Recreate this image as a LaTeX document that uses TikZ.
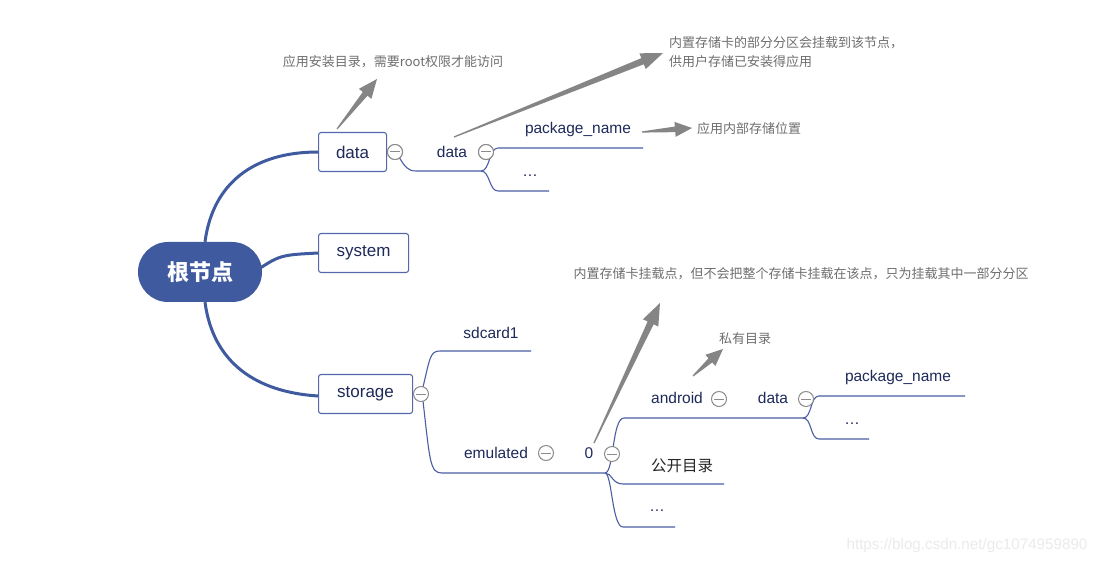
\documentclass[tikz,border=0pt]{standalone}
\usepackage{fontspec}
\setmainfont{Liberation Sans}
\newfontfamily\cjk{Noto Sans CJK SC}
\usetikzlibrary{calc}
\definecolor{rootblue}{HTML}{3F5A9E}
\definecolor{linkblue}{HTML}{4A5FA3}
\definecolor{boxblue}{HTML}{5468AA}
\definecolor{txt}{HTML}{1E2A5A}
\definecolor{annogray}{HTML}{858585}
\definecolor{annotext}{HTML}{6E6E6E}
\definecolor{ringgray}{HTML}{8C8C8C}
\definecolor{wm}{HTML}{EBEBEB}
\newcommand{\taparrow}[5]{%
  \coordinate (hb) at ($(#2)!#3!(#1)$);
  \fill[annogray] ($(#1)!0.6pt!90:(#2)$) -- ($(hb)!#5!90:(#2)$) -- ($(hb)!#4!90:(#2)$) -- (#2)
    -- ($(hb)!#4!-90:(#2)$) -- ($(hb)!#5!-90:(#2)$) -- ($(#1)!0.6pt!-90:(#2)$) -- cycle;}
\tikzset{
  topic/.style={draw=boxblue, line width=1.1pt, rounded corners=2.5pt, fill=white,
    minimum height=39pt, text=txt, font=\fontsize{17}{20}\selectfont, inner sep=0pt, anchor=west},
  sub/.style={text=txt, font=\fontsize{15.5}{18}\selectfont, inner sep=0pt},
  subcjk/.style={text=black!85, font=\cjk\fontsize{15.5}{18}\selectfont, inner sep=0pt},
  note/.style={text=annotext, font=\cjk\fontsize{13}{19}\selectfont, inner sep=0pt},
  trunk/.style={draw=rootblue, line width=3pt},
  branch/.style={draw=linkblue, line width=1.1pt},
  fold/.style={circle, draw=ringgray, fill=white, line width=1pt, minimum size=15pt, inner sep=0pt,
    path picture={\draw[ringgray, line width=1pt]
      ([xshift=-5pt]path picture bounding box.center) -- ([xshift=5pt]path picture bounding box.center);}},
}
\begin{document}
\begin{tikzpicture}[x=1pt,y=-1pt]
\useasboundingbox[fill=white] (0,0) rectangle (1101,564);

% root and topics
\node[fill=rootblue, rounded corners=30pt, minimum width=124pt, minimum height=60pt, inner sep=0pt,
  text=white, font=\cjk\bfseries\fontsize{22}{26}\selectfont] (root) at (200,272) {根节点};
\node[topic, minimum width=68pt] (data) at (318,152) {data};
\node[topic, minimum width=90pt] (system) at (318,253) {system};
\node[topic, minimum width=94pt] (storage) at (318,394) {storage};

% trunk links
\draw[trunk] ([xshift=5pt]root.north) .. controls (213,182) and (255,152) .. (data.west);
\draw[trunk] ([xshift=-8pt]root.east) .. controls (280,255) .. (system.west);
\draw[trunk] ([xshift=5pt]root.south) .. controls (213,362) and (255,392) .. ([yshift=-2pt]storage.west);

% data branch
\node[fold] (fd1) at (395,152) {};
\node[sub] (data2) at (452,152) {data};
\node[fold] (fd2) at (486,152) {};
\node[sub] (pk1) at (578,129) {package\_name};
\node[sub] (dots1) at (530,176) {…};
\coordinate (a0) at (399,157);
\coordinate (a1) at (416,171);
\coordinate (a2) at (481,171);
\coordinate (a3) at (498,148);
\coordinate (a4) at (643,148);
\coordinate (a5) at (498,191);
\coordinate (a6) at (549,191);
\draw[branch] (a0) .. controls (405,167) and (408,171) .. (a1) -- (a2);
\draw[branch] (a2) .. controls (490,171) and (489,148) .. (a3) -- (a4);
\draw[branch] (a2) .. controls (490,171) and (489,191) .. (a5) -- (a6);
\node[fold] at (fd1) {};
\node[fold] at (fd2) {};

% storage branch
\node[sub] (sd) at (491,333) {sdcard1};
\node[sub] (emu) at (496,453) {emulated};
\node[sub] (zero) at (589,453) {0};
\node[sub] (andr) at (677,398) {android};
\node[sub] (data3) at (773,398) {data};
\node[sub] (pk2) at (898,377) {package\_name};
\node[sub] (dots2) at (852,424) {…};
\node[subcjk] (pub) at (682,466) {公开目录};
\node[sub] (dots3) at (657,511) {…};
\coordinate (s0) at (423,387);
\coordinate (s1) at (440,351);
\coordinate (s2) at (531,351);
\coordinate (s3) at (423,401);
\coordinate (s4) at (442,473);
\coordinate (s5) at (605,473);
\coordinate (z1) at (624,418);
\coordinate (z2) at (803,418);
\coordinate (z3) at (623,484);
\coordinate (z4) at (724,484);
\coordinate (z5) at (623,527);
\coordinate (z6) at (675,527);
\coordinate (d1) at (819,396);
\coordinate (d2) at (965,396);
\coordinate (d3) at (819,439);
\coordinate (d4) at (869,439);
\draw[branch] (s0) .. controls (430,358) and (430,351) .. (s1) -- (s2);
\draw[branch] (s3) .. controls (430,462) and (430,473) .. (s4) -- (s5);
\draw[branch] (s5) .. controls (614,473) and (612,418) .. (z1) -- (z2);
\draw[branch] (s5) .. controls (612,473) and (612,484) .. (z3) -- (z4);
\draw[branch] (s5) .. controls (612,473) and (612,527) .. (z5) -- (z6);
\draw[branch] (z2) .. controls (812,418) and (810,396) .. (d1) -- (d2);
\draw[branch] (z2) .. controls (812,418) and (810,439) .. (d3) -- (d4);
\node[fold] (fs) at (421,394) {};
\node[fold] (fe) at (546,453) {};
\node[fold] (fz) at (612,454) {};
\node[fold] (fa) at (719,399) {};
\node[fold] (fd3) at (806,399) {};

% annotations
\node[note] (n1) at (393,62) {应用安装目录，需要root权限才能访问};
\node[note, anchor=north west, align=left] (n2) at (669,36) {内置存储卡的部分分区会挂载到该节点，\\供用户存储已安装得应用};
\node[note, anchor=west] (n3) at (697,129) {应用内部存储位置};
\node[note] (n4) at (801,274) {内置存储卡挂载点，但不会把整个存储卡挂载在该点，只为挂载其中一部分分区};
\node[note] (n5) at (745,339) {私有目录};
\coordinate (t1) at (337,129); \coordinate (h1) at (377,79);
\coordinate (t2) at (454,137); \coordinate (h2) at (663,53);
\coordinate (t3) at (642,132); \coordinate (h3) at (692,128);
\coordinate (t4) at (594,443); \coordinate (h4) at (660,303);
\coordinate (t5) at (693,376); \coordinate (h5) at (723,349);
\taparrow{t1}{h1}{19pt}{8pt}{3pt}
\taparrow{t2}{h2}{22pt}{8.5pt}{3.3pt}
\taparrow{t3}{h3}{17pt}{7.5pt}{2.8pt}
\taparrow{t4}{h4}{22pt}{8.5pt}{3.3pt}
\taparrow{t5}{h5}{17pt}{7.5pt}{2.8pt}

% watermark
\node[text=wm, font=\fontsize{15.2}{17}\selectfont, inner sep=0pt] (wmark) at (967,546) {https://blog.csdn.net/gc1074959890};
\end{tikzpicture}
\end{document}
